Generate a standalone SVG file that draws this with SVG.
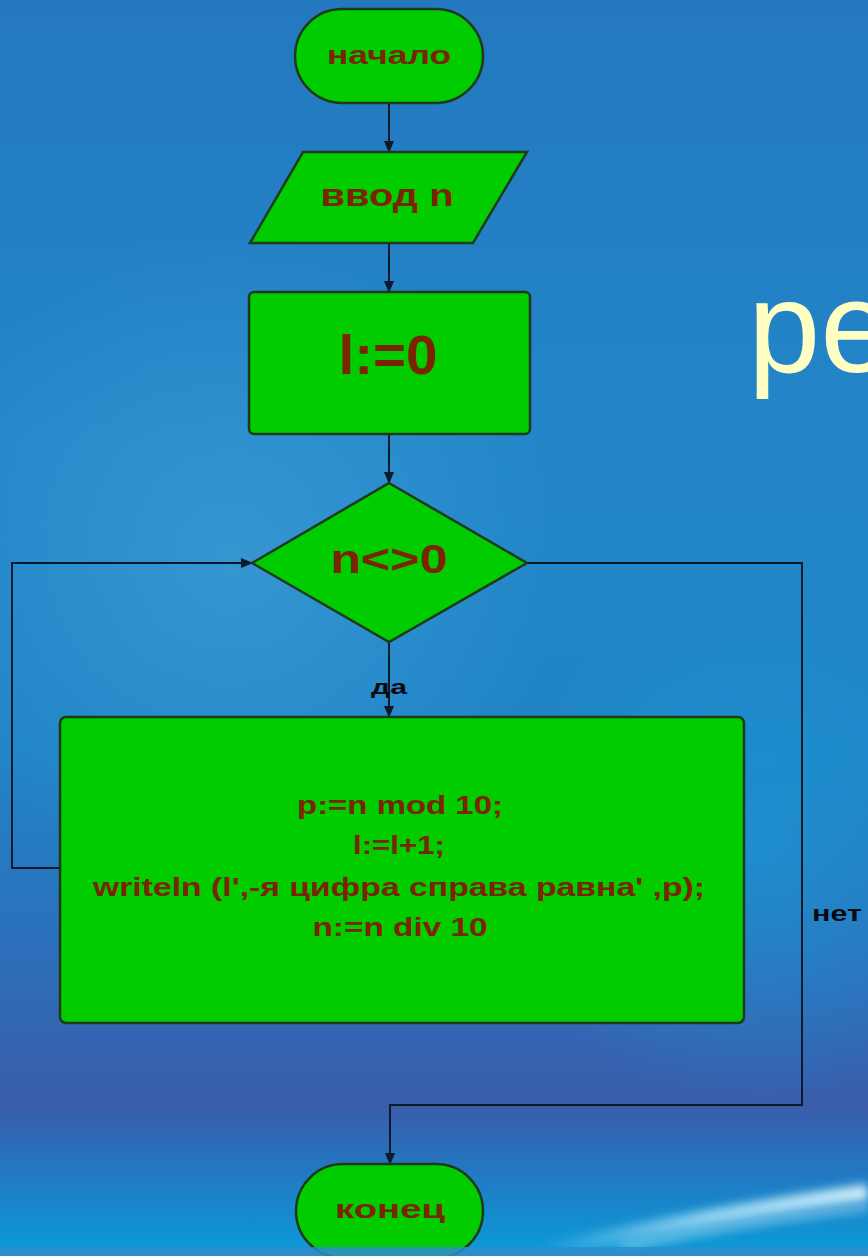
<svg xmlns="http://www.w3.org/2000/svg" width="868" height="1256" viewBox="0 0 868 1256">
  <defs>
    <linearGradient id="bg" x1="0" y1="0" x2="0" y2="1">
      <stop offset="0" stop-color="#2478c0"/>
      <stop offset="0.35" stop-color="#2286c8"/>
      <stop offset="0.6" stop-color="#1f84c6"/>
      <stop offset="0.78" stop-color="#2f6cb8"/>
      <stop offset="0.88" stop-color="#3a5cab"/>
      <stop offset="0.94" stop-color="#1f7cc4"/>
      <stop offset="1" stop-color="#0a9cd8"/>
    </linearGradient>
    <radialGradient id="glow" cx="230" cy="560" r="330" gradientUnits="userSpaceOnUse">
      <stop offset="0" stop-color="#4aa6dc" stop-opacity="0.5"/>
      <stop offset="1" stop-color="#4aa6dc" stop-opacity="0"/>
    </radialGradient>
    <radialGradient id="glow2" cx="760" cy="850" r="260" gradientUnits="userSpaceOnUse">
      <stop offset="0" stop-color="#1a9ad6" stop-opacity="0.6"/>
      <stop offset="1" stop-color="#1a9ad6" stop-opacity="0"/>
    </radialGradient>
    <linearGradient id="swoosh" x1="0" y1="0" x2="1" y2="0">
      <stop offset="0" stop-color="#bfeeff" stop-opacity="0"/>
      <stop offset="0.5" stop-color="#bfeeff" stop-opacity="0.7"/>
      <stop offset="1" stop-color="#e0f8ff" stop-opacity="0.9"/>
    </linearGradient>
    <filter id="blur" x="-20%" y="-200%" width="140%" height="500%">
      <feGaussianBlur stdDeviation="5"/>
    </filter>
    <marker id="arr" markerWidth="12" markerHeight="12" refX="11" refY="6" orient="auto" markerUnits="userSpaceOnUse">
      <path d="M0,1 L12,6 L0,11 Z" fill="#0d1a2a"/>
    </marker>
    <style>
      .node { fill: #00cc00; stroke: #1c3a1c; stroke-width: 2.5; }
      .lbl { font-family: "Liberation Sans", Arial, sans-serif; font-weight: bold; fill: #7a2400; text-anchor: middle; }
      .edge { fill: none; stroke: #0d1a2a; stroke-width: 2; }
      .elbl { font-family: "Liberation Sans", Arial, sans-serif; font-weight: bold; fill: #0a0a14; text-anchor: middle; }
    </style>
  </defs>

  <!-- background -->
  <rect x="0" y="0" width="868" height="1256" fill="url(#bg)"/>
  <rect x="0" y="0" width="868" height="1256" fill="url(#glow)"/>
  <rect x="0" y="0" width="868" height="1256" fill="url(#glow2)"/>
  <path d="M540,1252 Q720,1212 868,1192" fill="none" stroke="url(#swoosh)" stroke-width="16" filter="url(#blur)"/>
  <path d="M620,1248 Q760,1220 868,1208" fill="none" stroke="#d8f6ff" stroke-opacity="0.6" stroke-width="5" filter="url(#blur)"/>
  <text x="748" y="372" font-family="Liberation Sans, Arial, sans-serif" font-size="130" fill="#ffffc4">ре</text>

  <!-- connectors -->
  <g id="connectors">
    <line class="edge" x1="389" y1="103" x2="389" y2="152" marker-end="url(#arr)"/>
    <line class="edge" x1="389" y1="243" x2="389" y2="292" marker-end="url(#arr)"/>
    <line class="edge" x1="389" y1="434" x2="389" y2="483" marker-end="url(#arr)"/>
    <line class="edge" x1="389" y1="642" x2="389" y2="717" marker-end="url(#arr)"/>
    <path class="edge" d="M60,868 H12 V563 H252" marker-end="url(#arr)"/>
    <path class="edge" d="M527,563 H802 V1105 H390 V1164" marker-end="url(#arr)"/>
    <text class="elbl" x="389" y="694" font-size="20" textLength="36" lengthAdjust="spacingAndGlyphs">да</text>
    <text class="elbl" x="837" y="921" font-size="22" textLength="50" lengthAdjust="spacingAndGlyphs">нет</text>
  </g>

  <g id="start">
    <rect class="node" x="295" y="9" width="188" height="94" rx="47"/>
    <text class="lbl" x="389" y="64" font-size="25" textLength="124" lengthAdjust="spacingAndGlyphs">начало</text>
  </g>

  <g id="input">
    <polygon class="node" points="303,152 527,152 473,243 250,243"/>
    <text class="lbl" x="387" y="206" font-size="31" textLength="133" lengthAdjust="spacingAndGlyphs">ввод n</text>
  </g>

  <g id="init">
    <rect class="node" x="249" y="292" width="281" height="142" rx="5"/>
    <text class="lbl" x="388" y="374" font-size="55" textLength="99" lengthAdjust="spacingAndGlyphs">l:=0</text>
  </g>

  <g id="cond">
    <polygon class="node" points="389,483 527,563 389,642 252,563"/>
    <text class="lbl" x="389" y="573" font-size="41" textLength="117" lengthAdjust="spacingAndGlyphs">n&lt;&gt;0</text>
  </g>

  <g id="body">
    <rect class="node" x="60" y="717" width="684" height="306" rx="6"/>
    <text class="lbl" x="400" y="814" font-size="25" textLength="206" lengthAdjust="spacingAndGlyphs">p:=n mod 10;</text>
    <text class="lbl" x="399" y="854" font-size="25" textLength="92" lengthAdjust="spacingAndGlyphs">l:=l+1;</text>
    <text class="lbl" x="399" y="896" font-size="25" textLength="612" lengthAdjust="spacingAndGlyphs">writeln (l',-я цифра справа равна' ,p);</text>
    <text class="lbl" x="400" y="936" font-size="25" textLength="175" lengthAdjust="spacingAndGlyphs">n:=n div 10</text>
  </g>

  <g id="end">
    <rect class="node" x="296" y="1164" width="187" height="94" rx="47"/>
    <text class="lbl" x="390" y="1218" font-size="25" textLength="110" lengthAdjust="spacingAndGlyphs">конец</text>
  </g>

  <rect x="0" y="1247" width="868" height="9" fill="#2f8ccc" opacity="0.85"/>
</svg>
